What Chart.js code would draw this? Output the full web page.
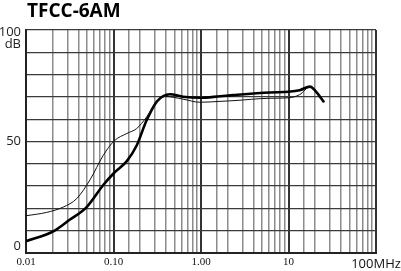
<!DOCTYPE html>
<html>
<head>
<meta charset="utf-8">
<script src="https://cdn.jsdelivr.net/npm/chart.js@4.4.1/dist/chart.umd.min.js"></script>
<style>
	html, body { margin: 0; padding: 0; background: #fff; }
	#wrap { width: 401px; height: 271px; position: relative; }
</style>
</head>
<body>
<div id="wrap"><canvas id="chart" width="401" height="271"></canvas></div>
<script>
const TITLE		= "TFCC-6AM";

// thick curve (MHz, dB)
const thickFreq	= [ 0.01, 0.0205, 0.0318, 0.0494, 0.0764, 0.102, 0.142, 0.184, 0.239, 0.314, 0.442, 0.623, 0.97, 1.65, 2.32, 6.15, 10, 13.4, 17.6, 20.5, 25.5 ];
const thickDb	= [ 5.3, 9.7, 15, 20.6, 30.5, 36, 41.2, 48.2, 59.5, 68, 71.2, 70.1, 69.6, 70.3, 70.8, 72, 72.3, 73, 74.6, 72.5, 67.6 ];

// thin curve (MHz, dB)
const thinFreq	= [ 0.01, 0.0172, 0.0267, 0.038, 0.0539, 0.0764, 0.102, 0.142, 0.184, 0.239, 0.314, 0.388, 0.623, 0.97, 1.65, 2.32, 6.15, 10, 13.4, 17.6, 20.5, 25.5 ];
const thinDb	= [ 16.7, 18.2, 20.6, 24.4, 32.8, 43.8, 50.3, 53.6, 55.8, 61, 68, 70.2, 69, 67.6, 68, 68.3, 69.4, 69.6, 71, 74.5, 72.5, 67.6 ];

const xTickVals	= [ 0.01, 0.1, 1, 10, 100 ];
const xTickText	= [ "0.01", "0.10", "1.00", "10", "100MHz" ];
const yTickVals	= [ 0, 50, 100 ];
const yTickText	= [ "0", "50", "100" ];
const yUnit		= "dB";

function toPoints( xs, ys ) {
	return xs.map( ( x, i ) => ( { x: x, y: ys[ i ] } ) );
}

function isDecade( v ) {
	const l = Math.log10( v );
	return Math.abs( l - Math.round( l ) ) < 1e-6;
}

const textPlugin = {
	id: "texts",
	afterDraw( chart ) {
		const ctx	= chart.ctx;
		const ys	= chart.scales.y;
		ctx.save();
		ctx.fillStyle		= "#000";
		ctx.font			= "bold 19px 'Open Sans'";
		ctx.textAlign		= "left";
		ctx.textBaseline	= "alphabetic";
		ctx.fillText( TITLE, 27, 17 );

		ctx.fillStyle		= "#222";
		ctx.font			= "13px 'Open Sans'";
		ctx.textAlign		= "right";
		ctx.textBaseline	= "middle";
		const offs = [ -7, 0, 2 ];
		for ( let i = 0; i < yTickVals.length; i++ ) {
			const py = ys.getPixelForValue( yTickVals[ i ] ) + offs[ i ];
			ctx.fillText( yTickText[ i ], 21, py );
		}
		ctx.fillText( yUnit, 21, ys.getPixelForValue( 100 ) + 14 );
		ctx.restore();
	}
};

const cfg = {
	type: "line",
	data: {
		datasets: [
			{
				data: toPoints( thinFreq, thinDb ),
				borderColor: "#111",
				borderWidth: 1,
				pointRadius: 0,
				cubicInterpolationMode: "monotone",
				fill: false
			},
			{
				data: toPoints( thickFreq, thickDb ),
				borderColor: "#000",
				borderWidth: 2.6,
				pointRadius: 0,
				cubicInterpolationMode: "monotone",
				fill: false
			}
		]
	},
	options: {
		responsive: false,
		animation: false,
		events: [],
		layout: { padding: { top: 30, right: 0, left: 0, bottom: 0 } },
		plugins: {
			legend: { display: false },
			tooltip: { enabled: false },
			title: { display: false }
		},
		scales: {
			x: {
				type: "logarithmic",
				min: 0.01,
				max: 100,
				afterFit: s => { s.height = 18; s.paddingRight = 25; s.paddingLeft = 0; },
				border: { display: true, color: "#222", width: 2 },
				grid: {
					drawTicks: false,
					color: c => isDecade( c.tick.value ) ? "#333" : "#8c8c8c",
					lineWidth: c => isDecade( c.tick.value ) ? 2 : 1.5
				},
				ticks: {
					autoSkip: false,
					maxRotation: 0,
					padding: 3,
					color: "#111",
					font: c => ( c.tick && c.tick.value === 100 )
						? { family: "'Open Sans'", size: 13 }
						: { family: "'Liberation Serif'", size: 11 },
					callback: function ( v ) {
						const i = xTickVals.findIndex( t => Math.abs( t - v ) / t < 1e-6 );
						return i < 0 ? "" : xTickText[ i ];
					}
				}
			},
			y: {
				min: 0,
				max: 100,
				afterFit: s => { s.width = 26; },
				border: { display: true, color: "#222", width: 2 },
				grid: {
					drawTicks: false,
					color: "#3a3a3a",
					lineWidth: 1.3
				},
				ticks: {
					stepSize: 10,
					display: false
				}
			}
		}
	},
	plugins: [ textPlugin ]
};

new Chart( document.getElementById( "chart" ), cfg );
</script>
</body>
</html>
